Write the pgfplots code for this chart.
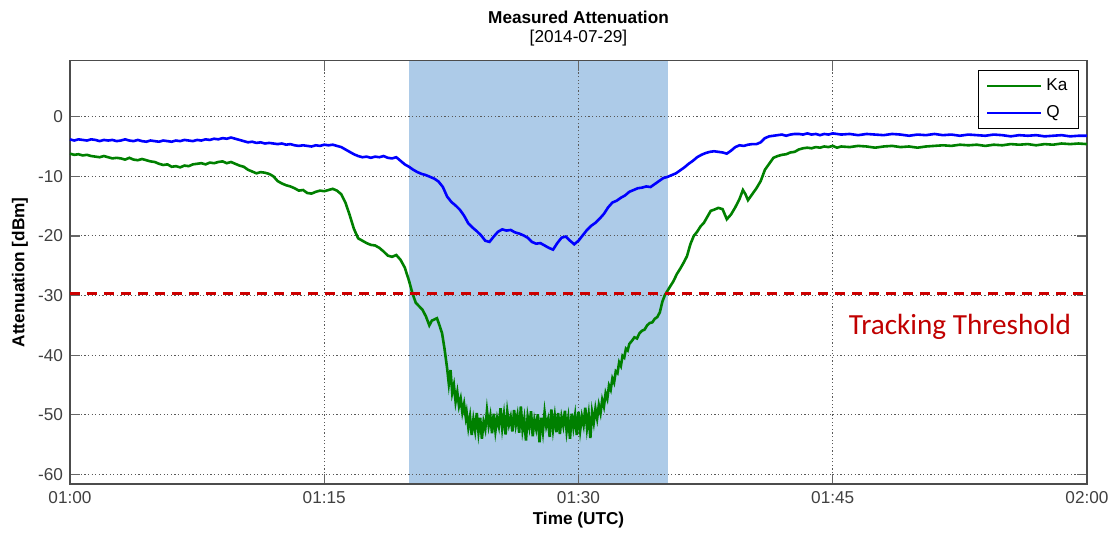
\documentclass[border=0pt]{standalone}
\usepackage{pgfplots}
\pgfplotsset{compat=1.18}
\usepackage{fontspec}
\setmainfont{Liberation Sans}
\newfontfamily\calib{Carlito}

\definecolor{kagreen}{RGB}{0,128,0}
\definecolor{qblue}{RGB}{0,0,255}
\definecolor{shade}{RGB}{173,203,232}
\definecolor{thr}{RGB}{204,0,0}
\definecolor{thrtext}{RGB}{192,0,0}

\begin{document}
\begin{tikzpicture}
\begin{axis}[
  set layers=standard,
  clip=false,
  scale only axis,
  width=508.5pt, height=211.7pt,
  xmin=0, xmax=60, ymin=-61.6, ymax=9.4,
  xtick={0,15,30,45,60},
  xticklabels={01:00,01:15,01:30,01:45,02:00},
  ytick={-60,-50,...,0},
  /pgf/number format/assume math mode=true,
  tick align=inside,
  major tick length=5pt,
  tick style={black!60, line width=0.6pt},
  axis line style={black!70, line width=0.6pt},
  grid=major,
  major grid style={black!65, line width=0.45pt, dash pattern=on 0.6pt off 1.2pt},
  ticklabel style={font=\fontsize{8.6}{10}\selectfont, text=black!75},
  xlabel={\bfseries Time (UTC)},
  ylabel={\bfseries Attenuation [dBm]},
  label style={font=\fontsize{8.6}{10}\selectfont},
  xlabel style={at={(axis description cs:0.5,-0.085)}, anchor=center},
  ylabel style={at={(axis description cs:-0.0492,0.5)}, anchor=center},
  legend style={at={(axis description cs:1,1)}, anchor=north east,
    xshift=-4pt, yshift=-4.7pt, draw=black, line width=0.5pt,
    font=\fontsize{8.6}{10}\selectfont, inner xsep=3.5pt, inner ysep=2pt,
    row sep=2pt, cells={anchor=west}},
  legend image code/.code={\draw[#1] (0pt,0pt) -- (27pt,0pt);},
]
% fade-out window
\begin{pgfonlayer}{axis background}
\addplot[draw=none, fill=shade, forget plot] coordinates {(20,-61.6) (20,9.4) (35.3,9.4) (35.3,-61.6)} -- cycle;
\end{pgfonlayer}

% Ka band
\addplot[kagreen, line width=1.3pt] coordinates {
(0,-6.2) (0.25,-6.4) (0.5,-6.3) (0.75,-6.5) (1,-6.4) (1.25,-6.6) (1.5,-6.7) (1.75,-6.8)
(2,-6.6) (2.25,-6.8) (2.5,-7.0) (2.75,-6.9) (3,-7.0) (3.25,-7.2) (3.5,-6.9) (3.75,-7.2)
(4,-7.3) (4.25,-7.1) (4.5,-7.3) (4.75,-7.5) (5,-7.6) (5.25,-7.9) (5.5,-8.1) (5.75,-8.0)
(6,-8.4) (6.25,-8.3) (6.5,-8.5) (6.75,-8.2) (7,-8.3) (7.25,-8.0) (7.5,-7.9) (7.75,-7.8)
(8,-8.0) (8.25,-7.7) (8.5,-7.8) (8.75,-7.6) (9,-7.5) (9.25,-7.8) (9.5,-7.6) (9.75,-7.9)
(10,-8.2) (10.25,-8.4) (10.5,-8.9) (10.75,-9.2) (11,-9.5) (11.25,-9.3) (11.5,-9.4) (11.75,-9.6)
(12,-10.0) (12.25,-10.8) (12.5,-11.2) (12.75,-11.5) (13,-11.7) (13.25,-12.0) (13.5,-12.4) (13.75,-12.3)
(14,-12.8) (14.25,-12.9) (14.5,-12.6) (14.75,-12.4) (15,-12.5) (15.25,-12.3) (15.5,-12.1) (15.75,-12.4)
(16,-13.0) (16.25,-14.4) (16.5,-16.5) (16.75,-18.8) (17,-20.4) (17.25,-20.8) (17.5,-21.2) (17.75,-21.5)
(18,-21.6) (18.25,-22.0) (18.5,-22.6) (18.75,-23.3) (19,-23.5) (19.25,-23.2) (19.5,-24.0) (19.75,-25.3)
(20,-27.5) (20.2,-29.6) (20.4,-31.2) (20.6,-31.8) (20.8,-32.4) (21,-33.5) (21.2,-35.0) (21.35,-34.2)
(21.5,-34.0) (21.65,-33.8) (21.8,-35.0) (21.95,-36.3) (22.1,-39.0) (22.25,-42.2) (22.35,-44.8) (22.45,-42.5)
(22.55,-46.3) (22.65,-45.0) (22.75,-47.8) (22.85,-46.2) (22.95,-48.5) (23.05,-47.3) (23.15,-49.6) (23.25,-48.2)
(23.35,-50.4) (23.4,-49.6) (23.5,-52.1) (23.6,-50.3) (23.7,-53.4) (23.8,-50.8) (23.9,-52.6) (24,-49.7)
(24.1,-52.9) (24.2,-50.5) (24.3,-54.0) (24.4,-51.2) (24.5,-52.4) (24.6,-49.3) (24.7,-51.8) (24.8,-50.2)
(24.9,-53.1) (25,-49.8) (25.1,-52.7) (25.2,-50.6) (25.3,-51.9) (25.4,-48.9) (25.5,-52.2) (25.6,-50.0)
(25.7,-53.3) (25.8,-49.5) (25.9,-51.6) (26,-50.4) (26.1,-52.8) (26.2,-49.2) (26.3,-51.7) (26.4,-50.1)
(26.5,-53.0) (26.6,-48.6) (26.7,-52.5) (26.8,-50.7) (26.9,-54.3) (27,-50.3) (27.1,-52.0) (27.2,-49.4)
(27.3,-53.6) (27.4,-50.9) (27.5,-52.3) (27.6,-49.9) (27.7,-54.6) (27.8,-50.5) (27.9,-52.8) (28,-49.6)
(28.1,-51.9) (28.2,-50.8) (28.3,-53.7) (28.4,-49.1) (28.5,-52.4) (28.6,-50.2) (28.7,-52.9) (28.8,-49.7)
(28.9,-53.2) (29,-50.4) (29.1,-51.8) (29.2,-49.3) (29.3,-52.7) (29.4,-50.6) (29.5,-54.0) (29.6,-49.8)
(29.7,-52.1) (29.8,-50.1) (29.9,-53.4) (30,-49.5) (30.1,-52.6) (30.2,-50.3) (30.3,-51.7) (30.4,-48.8)
(30.5,-52.2) (30.6,-50.0) (30.7,-53.9) (30.8,-49.6) (30.9,-51.3) (31,-49.0) (31.1,-50.6) (31.2,-48.4)
(31.3,-49.7) (31.4,-47.5) (31.5,-48.6) (31.6,-46.4) (31.7,-47.3) (31.8,-45.1) (31.9,-45.8) (32,-43.9)
(32.1,-44.6) (32.2,-42.7) (32.3,-43.0) (32.4,-41.2) (32.5,-41.8) (32.6,-40.1) (32.7,-40.4) (32.8,-38.9)
(32.9,-39.2) (33,-38.1) (33.15,-37.6) (33.3,-37.0) (33.45,-37.2) (33.6,-36.3) (33.75,-35.9) (33.9,-35.7)
(34.05,-35.0) (34.2,-34.6) (34.35,-34.5) (34.5,-33.9) (34.65,-33.6) (34.8,-32.8) (34.95,-31.0) (35.1,-29.9)
(35.25,-29.2) (35.4,-28.5) (35.6,-27.6) (35.8,-26.4) (36,-25.5) (36.2,-24.5) (36.4,-23.4) (36.6,-21.4)
(36.8,-20.0) (37,-19.3) (37.2,-18.4) (37.4,-17.8) (37.6,-16.8) (37.8,-15.8) (38,-15.6) (38.25,-15.3)
(38.5,-15.5) (38.75,-17.2) (39,-16.4) (39.25,-15.2) (39.5,-13.8) (39.7,-12.3) (39.85,-13.0) (40,-14.0)
(40.2,-13.2) (40.5,-12.0) (40.75,-10.8) (41,-8.9) (41.25,-7.9) (41.5,-6.9) (41.75,-6.6) (42,-6.4)
(42.25,-6.3) (42.5,-6.0) (42.75,-5.9) (43,-5.5) (43.25,-5.3) (43.5,-5.2) (43.75,-5.3) (44,-5.1)
(44.25,-5.2) (44.5,-5.0) (44.75,-5.1) (45,-4.9) (45.25,-5.2) (45.5,-5.0) (46,-5.1) (46.5,-4.9)
(47,-5.0) (47.5,-5.2) (48,-5.0) (48.5,-4.9) (49,-5.1) (49.5,-5.0) (50,-5.2) (50.5,-5.0)
(51,-4.9) (51.5,-4.8) (52,-4.9) (52.5,-4.7) (53,-4.8) (53.5,-4.7) (54,-4.9) (54.5,-4.7)
(55,-4.8) (55.5,-4.6) (56,-4.7) (56.5,-4.6) (57,-4.8) (57.5,-4.6) (58,-4.7) (58.5,-4.5)
(59,-4.6) (59.5,-4.5) (60,-4.6)
};
\addlegendentry{Ka}

% Q band
\addplot[qblue, line width=1.3pt] coordinates {
(0,-3.8) (0.25,-4.0) (0.5,-3.8) (0.75,-3.9) (1,-4.0) (1.25,-3.8) (1.5,-3.9) (1.75,-4.1)
(2,-3.9) (2.25,-4.0) (2.5,-3.9) (2.75,-4.1) (3,-4.0) (3.25,-3.8) (3.5,-4.0) (3.75,-4.1)
(4,-3.9) (4.25,-4.1) (4.5,-4.2) (4.75,-4.0) (5,-4.1) (5.25,-4.2) (5.5,-4.0) (5.75,-4.1)
(6,-4.2) (6.25,-4.0) (6.5,-4.1) (6.75,-3.9) (7,-4.0) (7.25,-4.1) (7.5,-3.9) (7.75,-4.0)
(8,-3.8) (8.25,-3.9) (8.5,-3.7) (8.75,-3.8) (9,-3.6) (9.25,-3.7) (9.5,-3.5) (9.75,-3.7)
(10,-3.9) (10.25,-4.1) (10.5,-4.3) (10.75,-4.2) (11,-4.4) (11.25,-4.3) (11.5,-4.5) (11.75,-4.4)
(12,-4.5) (12.25,-4.6) (12.5,-4.5) (12.75,-4.7) (13,-4.6) (13.25,-4.8) (13.5,-4.9) (13.75,-4.8)
(14,-4.9) (14.25,-5.0) (14.5,-4.8) (14.75,-4.9) (15,-4.7) (15.25,-4.8) (15.5,-4.7) (15.75,-4.9)
(16,-5.1) (16.25,-5.5) (16.5,-5.9) (16.75,-6.3) (17,-6.6) (17.25,-6.8) (17.5,-6.7) (17.75,-6.9)
(18,-6.7) (18.25,-6.8) (18.5,-6.6) (18.75,-6.9) (19,-7.0) (19.25,-6.8) (19.5,-7.4) (19.75,-8.0)
(20,-8.4) (20.25,-8.9) (20.5,-9.3) (20.75,-9.6) (21,-9.8) (21.25,-10.1) (21.5,-10.4) (21.75,-10.9)
(22,-11.8) (22.25,-13.4) (22.5,-14.3) (22.75,-14.9) (23,-15.6) (23.25,-16.6) (23.5,-17.9) (23.75,-18.6)
(24,-19.2) (24.25,-19.9) (24.5,-20.8) (24.75,-21.0) (25,-20.1) (25.25,-19.3) (25.5,-18.9) (25.75,-19.1)
(26,-19.0) (26.25,-19.4) (26.5,-19.6) (26.75,-19.9) (27,-20.3) (27.25,-21.0) (27.5,-21.3) (27.75,-21.2)
(28,-21.6) (28.25,-22.0) (28.5,-22.3) (28.75,-21.2) (29,-20.3) (29.25,-20.1) (29.5,-20.8) (29.75,-21.4)
(30,-20.8) (30.25,-19.9) (30.5,-19.0) (30.75,-18.3) (31,-17.8) (31.25,-17.1) (31.5,-16.3) (31.75,-15.2)
(32,-14.4) (32.25,-14.1) (32.5,-13.6) (32.75,-13.2) (33,-12.6) (33.25,-12.3) (33.5,-12.0) (33.75,-11.9)
(34,-11.7) (34.25,-11.8) (34.5,-11.3) (34.75,-10.8) (35,-10.3) (35.25,-10.1) (35.5,-9.8) (35.75,-9.5)
(36,-9.0) (36.25,-8.5) (36.5,-7.9) (36.75,-7.4) (37,-6.8) (37.25,-6.4) (37.5,-6.1) (37.75,-5.9)
(38,-5.8) (38.25,-5.9) (38.5,-6.0) (38.75,-6.2) (39,-5.7) (39.25,-5.1) (39.5,-4.8) (39.75,-4.9)
(40,-4.7) (40.25,-4.6) (40.5,-4.6) (40.75,-4.3) (41,-3.6) (41.25,-3.3) (41.5,-3.2) (41.75,-3.1)
(42,-3.0) (42.25,-3.2) (42.5,-3.0) (42.75,-2.9) (43,-2.9) (43.25,-3.0) (43.5,-2.8) (43.75,-3.0)
(44,-2.9) (44.25,-3.1) (44.5,-2.9) (44.75,-3.0) (45,-2.8) (45.5,-3.0) (46,-2.9) (46.5,-3.1)
(47,-2.9) (47.5,-3.0) (48,-3.1) (48.5,-2.9) (49,-3.0) (49.5,-3.2) (50,-3.0) (50.5,-3.1)
(51,-2.9) (51.5,-3.1) (52,-3.0) (52.5,-3.2) (53,-3.0) (53.5,-3.1) (54,-3.2) (54.5,-3.0)
(55,-3.1) (55.5,-3.3) (56,-3.1) (56.5,-3.2) (57,-3.1) (57.5,-3.3) (58,-3.2) (58.5,-3.1)
(59,-3.3) (59.5,-3.2) (60,-3.2)
};
\addlegendentry{Q}

% tracking threshold
\addplot[thr, line width=1.5pt, dash pattern=on 5pt off 3.5pt, forget plot] coordinates {(0,-29.7) (60,-29.7)};
\node[anchor=base, text=thrtext, font=\calib\fontsize{14.6}{16}\selectfont] at (axis cs:52.5,-36.5) {Tracking Threshold};

% title
\node[font=\bfseries\fontsize{8.6}{10}\selectfont] at (axis description cs:0.5,1.1032) {Measured Attenuation};
\node[font=\fontsize{8.6}{10}\selectfont] at (axis description cs:0.5,1.0536) {[2014-07-29]};
\end{axis}
\pgfresetboundingbox
\path (-35pt,-24pt) rectangle (520pt,242pt);
\end{tikzpicture}
\end{document}
